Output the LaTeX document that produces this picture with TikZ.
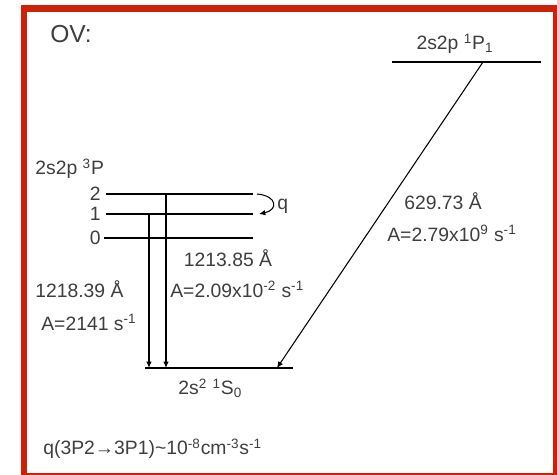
\documentclass[tikz,border=0pt]{standalone}
\usepackage{fontspec}
\setmainfont{Liberation Sans}
\usepackage{tikz}
\usetikzlibrary{arrows.meta}
\definecolor{frame}{RGB}{206,34,8}
\definecolor{ink}{RGB}{62,62,62}
\tikzset{
  arrow/.style = {-{Latex[length=3.6pt,width=3.2pt]}, line width=0.75pt},
  lvl/.style   = {line width=0.85pt},
  txt/.style   = {text=ink, font=\fontsize{11}{13}\selectfont, inner sep=0pt},
  border/.style = {draw=frame, line width=0.13cm},
}

\begin{document}
\begin{tikzpicture}[x=0.02cm, y=-0.02cm]

\useasboundingbox (0,0) rectangle (557,475);
\clip (0,0) rectangle (557,475);
\draw[border] (24,8.5) rectangle (556,476);

% ---------- title ----------
\node[txt, font=\fontsize{14}{16}\selectfont] (title) at (71,34) {OV:};

% ---------- levels ----------
\coordinate (ppw) at (392,62);  \coordinate (ppe) at (541,62);
\coordinate (p2w) at (106,194); \coordinate (p2e) at (253,194);
\coordinate (p1w) at (106,214); \coordinate (p1e) at (253,214);
\coordinate (p0w) at (104,238); \coordinate (p0e) at (253,238);
\coordinate (gsw) at (145,368); \coordinate (gse) at (293,368);

\draw[lvl] (ppw) -- (ppe);
\draw[lvl] (p2w) -- (p2e);
\draw[lvl] (p1w) -- (p1e);
\draw[lvl] (p0w) -- (p0e);
\draw[lvl] (gsw) -- (gse);

\node[txt, anchor=base] (pplab) at (455,50) {2s2p \textsuperscript{1}P\textsubscript{1}};
\node[txt, anchor=base west] (tplab) at (35,175) {2s2p \textsuperscript{3}P};
\node[txt, anchor=east] (j2) at (101,194) {2};
\node[txt, anchor=east] (j1) at (101,214) {1};
\node[txt, anchor=east] (j0) at (101,238) {0};
\node[txt, anchor=base west] (gslab) at (178,395) {2s\textsuperscript{2} \textsuperscript{1}S\textsubscript{0}};

% ---------- transitions ----------
\coordinate (t1) at (149,214);
\coordinate (t2) at (166,194);
\coordinate (t0) at (483,62);
\coordinate (g0) at (277,368);
\draw[arrow] (t1) -- (t1 |- gsw);
\draw[arrow] (t2) -- (t2 |- gsw);
\draw[arrow, line width=0.6pt] (t0) -- (g0);

% collisional q
\coordinate (q2) at (257,194);
\coordinate (q1) at (259,214);
\draw[arrow, line width=0.6pt] (q2) .. controls (278,196) and (278,210) .. (q1);
\node[txt, anchor=west] (qlab) at (277,206) {q};

% ---------- line labels ----------
\node[txt] (wl2) at (228,258) {1213.85 Å};
\node[txt, anchor=west] (al2) at (170,289) {A=2.09x10\textsuperscript{-2} s\textsuperscript{-1}};
\node[txt, anchor=west] (wl1) at (35,289) {1218.39 Å};
\node[txt, anchor=west] (al1) at (41,322) {A=2141 s\textsuperscript{-1}};
\node[txt] (wl0) at (443,201) {629.73 Å};
\node[txt, anchor=west] (al0) at (387,233) {A=2.79x10\textsuperscript{9} s\textsuperscript{-1}};

\node[txt, anchor=base west] (rate) at (43,455)
  {q(3P2→3P1)\textasciitilde10\textsuperscript{-8}cm\textsuperscript{-3}s\textsuperscript{-1}};

\end{tikzpicture}
\end{document}
